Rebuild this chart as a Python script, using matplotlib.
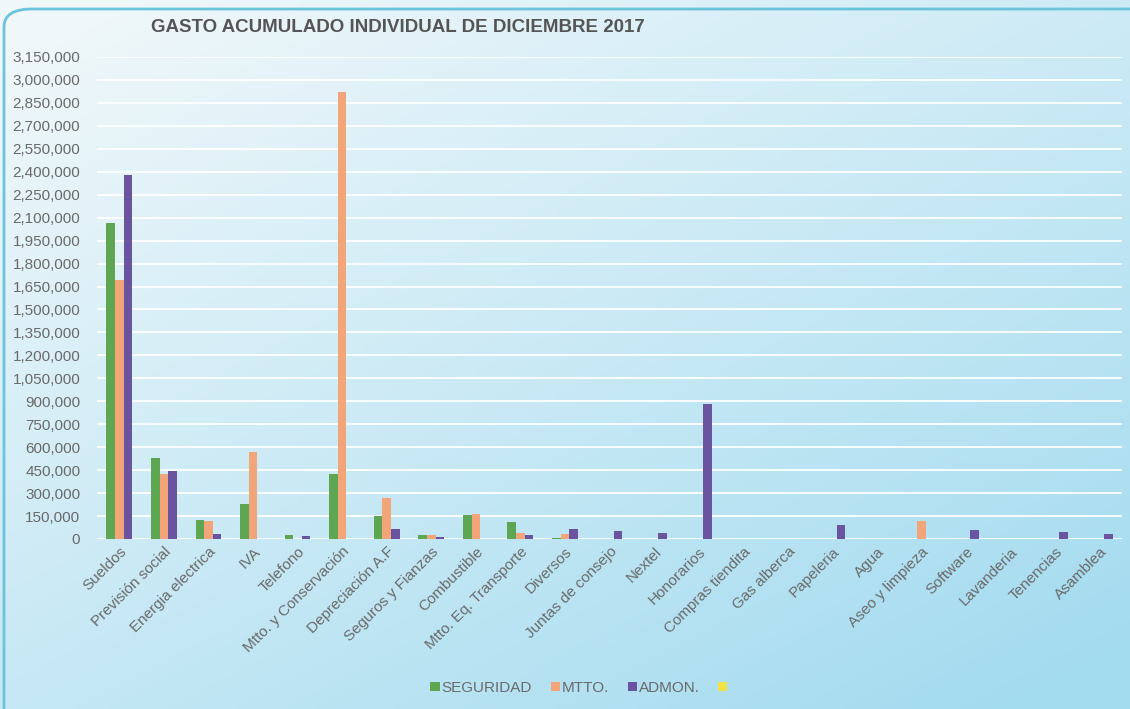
import numpy as np
import matplotlib.pyplot as plt
from matplotlib.patches import Patch, FancyBboxPatch

plt.rcParams["font.family"] = ["Liberation Sans", "DejaVu Sans"]

categories = [
    "Sueldos", "Previsión social", "Energia electrica", "IVA", "Telefono",
    "Mtto. y Conservación", "Depreciación A.F", "Seguros y Fianzas", "Combustible",
    "Mtto. Eq. Transporte", "Diversos", "Juntas de consejo", "Nextel", "Honorarios",
    "Compras tiendita", "Gas alberca", "Papeleria", "Agua", "Aseo y limpieza",
    "Software", "Lavanderia", "Tenencias", "Asamblea",
]
seguridad = [2067000, 528000, 124000, 228000, 25000, 428000, 150000, 25000, 157000,
             111000, 5000, 0, 0, 0, 0, 0, 0, 0, 0, 0, 0, 0, 0]
mtto = [1691000, 424000, 115000, 567000, 0, 2923000, 267000, 25000, 163000,
        40000, 30000, 0, 0, 0, 0, 0, 0, 0, 120000, 0, 0, 0, 0]
admon = [2380000, 443000, 30000, 0, 22000, 0, 65000, 15000, 0,
         25000, 67000, 50000, 40000, 880000, 0, 0, 90000, 0, 0, 60000, 0, 45000, 35000]
series_names = ["SEGURIDAD", "MTTO.", "ADMON.", ""]
colors = ["#5fa652", "#f3a57a", "#6a54a0", "#f2e24a"]

W, H = 1130, 709
fig = plt.figure(figsize=(W / 100, H / 100), dpi=100)

# background gradient (scanned look)
bg = fig.add_axes([0, 0, 1, 1], zorder=-10)
yy, xx = np.mgrid[0:1:200j, 0:1:300j]
t = np.clip(0.6 * yy + 0.5 * xx - 0.05, 0, 1)
c0 = np.array([0.94, 0.97, 0.98])
c1 = np.array([0.64, 0.86, 0.94])
img = c0[None, None, :] * (1 - t[..., None]) + c1[None, None, :] * t[..., None]
bg.imshow(img, aspect="auto", extent=[0, 1, 1, 0])
bg.set_xlim(0, 1)
bg.set_ylim(1, 0)
bg.axis("off")
bg.add_patch(FancyBboxPatch((4 / W, -0.2), 1.05, 1.2 - 9 / H,
                            boxstyle="round,pad=0,rounding_size=0.025",
                            fill=False, edgecolor="#6cc3dc", linewidth=2,
                            transform=bg.transAxes))

ax = fig.add_axes([97 / W, 1 - 539 / H, (1122 - 97) / W, (539 - 57) / H])
ax.set_facecolor("none")

x = np.arange(len(categories))
w = 0.193
for i, vals in enumerate([seguridad, mtto, admon]):
    ax.bar(x + (i - 1) * w, vals, width=w, color=colors[i], zorder=3)

ax.set_xlim(-0.5, len(categories) - 0.5)
ax.set_ylim(0, 3150000)
ax.set_yticks(np.arange(0, 3150001, 150000))
ax.set_yticklabels([f"{v:,}" for v in range(0, 3150001, 150000)])
ax.yaxis.grid(True, color="white", linewidth=1.4, alpha=0.9, zorder=0)
ax.set_xticks(x)
ax.set_xticklabels(categories, rotation=45, ha="right", rotation_mode="anchor")
ax.tick_params(axis="both", length=0, labelsize=11, colors="#6a6a6a")
ax.tick_params(axis="y", pad=12)
ax.tick_params(axis="x", pad=4)
for s in ax.spines.values():
    s.set_visible(False)

fig.text(398 / W, 1 - 27 / H, "GASTO ACUMULADO INDIVIDUAL DE DICIEMBRE 2017",
         ha="center", va="center", fontsize=13.5, fontweight="bold", color="#555555")

handles = [Patch(facecolor=c) for c in colors]
fig.legend(handles, series_names, loc="center", bbox_to_anchor=(580 / W, 1 - 688 / H),
           ncol=4, frameon=False, fontsize=11, handlelength=0.6, handleheight=0.6,
           handletextpad=0.15, columnspacing=1.2, labelcolor="#6a6a6a")

fig.savefig("out.png", dpi=100)
